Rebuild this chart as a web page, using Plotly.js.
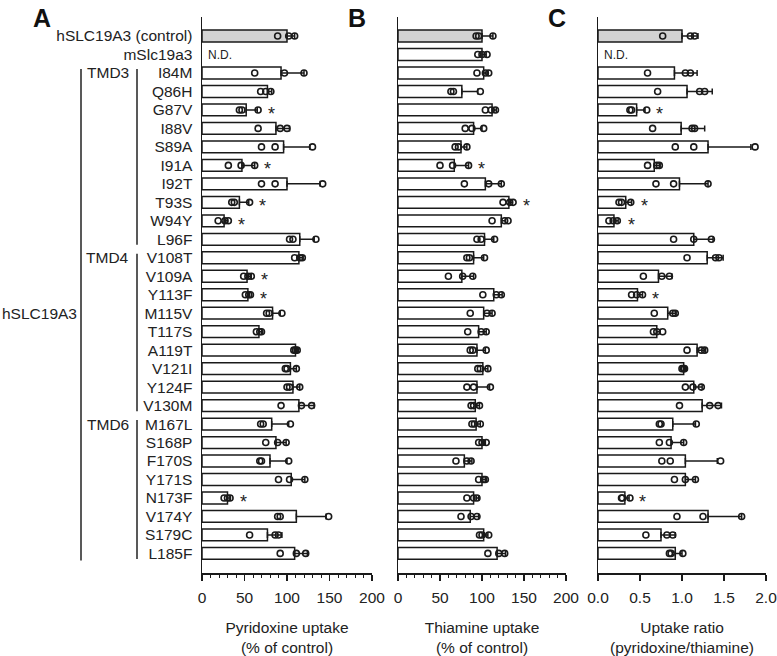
<!DOCTYPE html>
<html><head><meta charset="utf-8">
<script src="https://cdn.plot.ly/plotly-3.0.1.min.js"></script>
<style>html,body{margin:0;padding:0;background:#fff}#chart{width:777px;height:656px}</style>
</head><body><div id="chart"></div>
<script>
const categories = ["hSLC19A3 (control)","mSlc19a3","I84M","Q86H","G87V","I88V","S89A","I91A","I92T","T93S","W94Y","L96F","V108T","V109A","Y113F","M115V","T117S","A119T","V121I","Y124F","V130M","M167L","S168P","F170S","Y171S","N173F","V174Y","S179C","L185F"];

// Panel A: pyridoxine uptake (% of control)
const meanA = [100,null,93,77,52,87,96,47,100,44,26,115,114,53,54,83,67,110,104,107,114,82,87,80,105,30,111,77,109];
const errA  = [9,null,27,5,13,16,31,15,39,11,4,17,5,5,2,9,3,2,7,8,18,20,12,20,16,3,35,17,15];
const ptsA1 = [89,null,62,69,44,66,70,31,70,35,19,103,109,49,51,76,64,108,98,100,93,69,75,68,90,26,89,56,92];
const ptsA2 = [102,null,97,75,47,92,86,46,86,38,27,107,115,54,55,79,68,110,100,103,117,72,89,70,103,30,92,86,111];
const ptsA3 = [109,null,120,81,66,100,130,62,142,56,31,134,118,58,57,94,70,112,111,115,129,104,99,102,121,33,149,90,122];

// Panel B: thiamine uptake (% of control)
const meanB = [100,100,102,76,112,90,75,67,104,132,123,103,90,76,114,102,96,94,101,94,92,93,100,79,100,90,86,102,118];
const errB  = [13,5,5,19,5,10,7,17,19,4,5,11,12,14,10,10,9,10,6,15,5,5,4,9,4,6,10,5,10];
const ptsB1 = [93,95,94,63,104,80,68,50,79,125,112,94,82,60,101,86,83,86,95,82,87,88,96,69,96,82,75,97,107];
const ptsB2 = [96,100,104,66,111,88,72,65,108,133,127,99,85,77,117,106,99,89,98,90,90,91,100,82,102,90,87,100,120];
const ptsB3 = [113,106,108,98,116,102,82,84,123,137,131,115,103,89,123,112,105,105,107,110,97,98,105,87,104,94,94,108,127];

// Panel C: uptake ratio (pyridoxine/thiamine)
const meanC = [1.00,null,0.91,1.06,0.46,0.99,1.31,0.67,0.97,0.33,0.19,1.14,1.30,0.72,0.47,0.83,0.70,1.18,1.02,1.14,1.24,0.89,0.87,1.04,1.04,0.32,1.31,0.75,0.92];
const errC  = [0.19,null,0.27,0.30,0.10,0.28,0.51,0.07,0.34,0.07,0.05,0.23,0.19,0.16,0.06,0.10,0.04,0.10,0.02,0.10,0.23,0.27,0.15,0.38,0.12,0.05,0.40,0.17,0.08];
const ptsC1 = [0.77,null,0.59,0.71,0.38,0.65,0.92,0.59,0.69,0.25,0.13,0.90,1.06,0.54,0.40,0.67,0.66,1.06,1.00,1.04,0.97,0.73,0.73,0.76,0.91,0.28,0.94,0.57,0.85];
const ptsC2 = [1.10,null,1.04,1.21,0.40,1.12,1.14,0.70,0.90,0.28,0.18,1.14,1.40,0.76,0.46,0.89,0.70,1.23,1.02,1.13,1.33,0.75,0.85,0.86,1.04,0.29,1.25,0.82,0.87];
const ptsC3 = [1.15,null,1.10,1.27,0.58,1.15,1.87,0.73,1.31,0.39,0.23,1.35,1.44,0.85,0.53,0.92,0.77,1.27,1.03,1.23,1.43,1.17,1.02,1.46,1.16,0.38,1.71,0.89,1.01];

const sigA = ["G87V","I91A","T93S","W94Y","V109A","Y113F","N173F"];
const sigB = ["I91A","T93S"];
const sigC = ["G87V","T93S","W94Y","Y113F","N173F"];
const ndA = ["mSlc19a3"];
const ndC = ["mSlc19a3"];

const tickValsAB = [0,50,100,150,200];
const tickTextAB = ["0","50","100","150","200"];
const tickValsC = [0,0.5,1,1.5,2];
const tickTextC = ["0.0","0.5","1.0","1.5","2.0"];
const xTitles = ["Pyridoxine uptake<br>(% of control)","Thiamine uptake<br>(% of control)","Uptake ratio<br>(pyridoxine/thiamine)"];
const panelLetters = ["A","B","C"];

const FONT = "Liberation Sans, Arial, Helvetica, sans-serif";
const FS = 15.5;
const W = 777;
const doms = [[202/W,372/W],[398/W,566/W],[598/W,766/W]];

function barColors(){ return categories.map((c,i)=> i===0 ? "#d3d3d3" : "#ffffff"); }

const panels = [
  {mean:meanA, err:errA, pts:[ptsA1,ptsA2,ptsA3], sig:sigA, nd:ndA, xa:"x", ya:"y"},
  {mean:meanB, err:errB, pts:[ptsB1,ptsB2,ptsB3], sig:sigB, nd:[], xa:"x2", ya:"y2"},
  {mean:meanC, err:errC, pts:[ptsC1,ptsC2,ptsC3], sig:sigC, nd:ndC, xa:"x3", ya:"y3"}
];

const traces = [];
const annotations = [];
panels.forEach((p,k)=>{
  traces.push({
    type:"bar", orientation:"h", x:p.mean, y:categories, xaxis:p.xa, yaxis:p.ya,
    width:0.64,
    marker:{color:barColors(), line:{color:"#1a1a1a", width:1.5}},
    error_x:{type:"data", symmetric:false, array:p.err, arrayminus:p.err.map(()=>0),
             color:"#1a1a1a", thickness:1.5, width:3},
    hoverinfo:"skip", showlegend:false
  });
  const xs=[], ys=[];
  p.pts.forEach(arr=>arr.forEach((v,i)=>{ if(v!==null){xs.push(v); ys.push(categories[i]);} }));
  traces.push({
    type:"scatter", mode:"markers", x:xs, y:ys, xaxis:p.xa, yaxis:p.ya,
    marker:{symbol:"circle-open", size:6, color:"#1a1a1a", line:{width:1.6, color:"#1a1a1a"}},
    hoverinfo:"skip", showlegend:false
  });
  const axSuffix = k===0 ? "" : String(k+1);
  p.sig.forEach(name=>{
    const i = categories.indexOf(name);
    const top = Math.max(p.mean[i]+p.err[i], p.pts[0][i], p.pts[1][i], p.pts[2][i]);
    annotations.push({xref:"x"+axSuffix, yref:"y"+axSuffix, x:top, y:name, text:"*",
      showarrow:false, xanchor:"center", xshift:13, yshift:-4, font:{family:FONT, size:18, color:"#222"}});
  });
  p.nd.forEach(name=>{
    annotations.push({xref:"x"+axSuffix, yref:"y"+axSuffix, x:0, y:name, text:"N.D.",
      showarrow:false, xanchor:"left", xshift:4, font:{family:FONT, size:12, color:"#222"}});
  });
  annotations.push({xref:"paper", yref:"paper", x:[42,357,557][k]/W, y:1, yshift:-1, yanchor:"middle",
    xanchor:"center", text:"<b>"+panelLetters[k]+"</b>", showarrow:false,
    font:{family:FONT, size:25, color:"#111"}});
});

// group labels on the left
const groups = [
  {label:"TMD3", from:"I84M", to:"L96F"},
  {label:"TMD4", from:"V108T", to:"V130M"},
  {label:"TMD6", from:"M167L", to:"L185F"}
];
const shapes = [];
groups.forEach(g=>{
  const a = categories.indexOf(g.from), b = categories.indexOf(g.to);
  annotations.push({xref:"paper", yref:"y", x:131/W, y:g.from, xanchor:"right", text:g.label,
    showarrow:false, font:{family:FONT, size:FS, color:"#222"}});
  shapes.push({type:"line", xref:"paper", yref:"y", x0:137/W, x1:137/W, y0:a-0.22, y1:b+0.3,
    line:{color:"#222", width:1.5}});
});
annotations.push({xref:"paper", yref:"y", x:0, y:"M115V", xanchor:"left", text:"hSLC19A3",
  showarrow:false, font:{family:FONT, size:FS, color:"#222"}});
shapes.push({type:"line", xref:"paper", yref:"y", x0:81/W, x1:81/W,
  y0:categories.indexOf("I84M")-0.22, y1:categories.indexOf("L185F")+0.38, line:{color:"#222", width:1.5}});

const layout = {
  width:777, height:656, paper_bgcolor:"#fff", plot_bgcolor:"rgba(0,0,0,0)",
  margin:{l:0, r:0, t:17, b:83},
  font:{family:FONT, size:FS, color:"#222"},
  showlegend:false, barmode:"overlay",
  annotations, shapes
};
const yRange = [29.06, -1.03];
[0,1,2].forEach(k=>{
  const s = k===0 ? "" : String(k+1);
  const isC = k===2;
  layout["xaxis"+s] = {
    domain:doms[k], anchor:"y"+s, range: isC ? [0,2] : [0,200],
    tickmode:"array",
    tickvals: isC ? tickValsC : tickValsAB,
    ticktext: isC ? tickTextC : tickTextAB,
    ticks:"outside", ticklen:6, tickwidth:1.5, tickcolor:"#1a1a1a",
    minor: isC ? undefined : {dtick:10, ticks:"outside", ticklen:3, tickwidth:1, tickcolor:"#1a1a1a"},
    showline:true, linewidth:1.5, linecolor:"#1a1a1a", showgrid:false, zeroline:false,
    tickfont:{family:FONT, size:FS, color:"#222"}, ticklabelstandoff:4, ticklabeloverflow:"allow",
    title:{text:xTitles[k], font:{family:FONT, size:FS, color:"#222"}, standoff:18},
    fixedrange:true
  };
  layout["yaxis"+s] = {
    domain:[0,1], anchor:"x"+s, type:"category", categoryarray:categories, categoryorder:"array",
    tickmode:"array", tickvals:categories, ticktext:categories,
    range:yRange, showline:true, linewidth:1.5, linecolor:"#1a1a1a", showgrid:false, zeroline:false,
    ticks:"", showticklabels:k===0, tickfont:{family:FONT, size:FS, color:"#222"},
    ticklabelstandoff:5, fixedrange:true
  };
});

Plotly.newPlot("chart", traces, layout, {displayModeBar:false, staticPlot:true});
</script></body></html>
